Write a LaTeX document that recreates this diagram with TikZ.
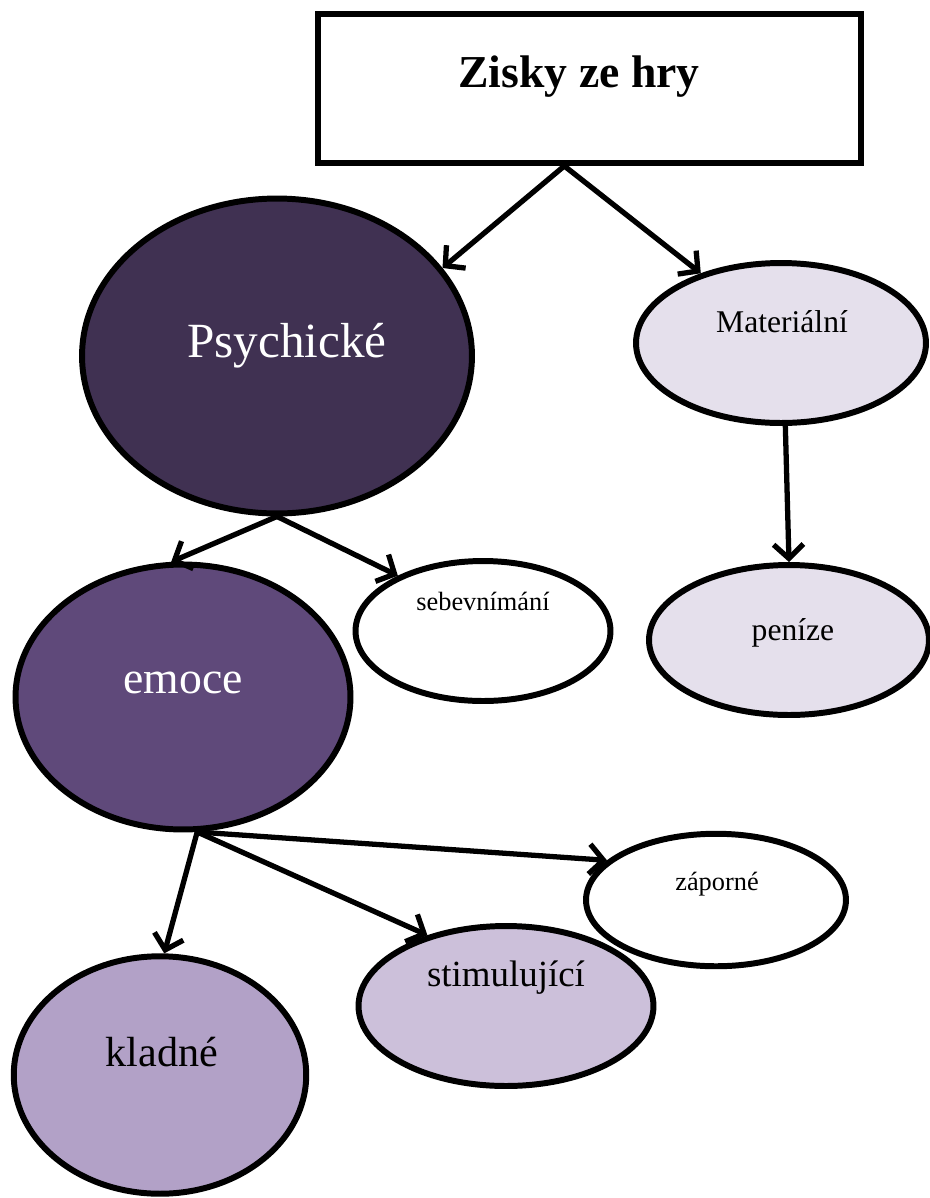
\documentclass[tikz,border=0pt]{standalone}
\usepackage{fontspec}
\setmainfont{Liberation Serif}
\usetikzlibrary{shapes.geometric,arrows.meta}
\definecolor{psydark}{HTML}{403152}
\definecolor{emoviolet}{HTML}{5F497A}
\definecolor{kladlila}{HTML}{B2A1C7}
\definecolor{stimlila}{HTML}{CCC0DA}
\definecolor{matpale}{HTML}{E5E0EC}
\newcommand{\fs}[1]{\fontsize{#1}{#1}\selectfont}

\begin{document}
\begin{tikzpicture}[x=0.02cm,y=-0.02cm,
  blob/.style={ellipse,draw,line width=3.4pt,inner sep=0pt},
  word/.style={anchor=base,inner sep=0pt},
  arr/.style={line width=3pt,-{Straight Barb[length=8pt,width=17pt,line width=3pt]}}]
  \useasboundingbox (0,0) rectangle (930,1198);
  % top box
  \node (zisky) at (589.5,88.5) [draw,line width=3.4pt,minimum width=10.86cm,minimum height=2.98cm] {};
  \node (ziskytext) at (579,87) [word,font=\fs{26}\bfseries] {Zisky ze hry};
  % first level
  \node (psy) at (277,356) [blob,fill=psydark,minimum width=7.8cm,minimum height=6.3cm] {};
  \node (psytext) at (287,357) [word,text=white,font=\fs{28}] {Psychické};
  \node (mat) at (781,343) [blob,fill=matpale,minimum width=5.8cm,minimum height=3.2cm] {};
  \node (mattext) at (782,332) [word,font=\fs{18}] {Materiální};
  \node (pen) at (789,640) [blob,fill=matpale,minimum width=5.6cm,minimum height=3cm] {};
  \node (pentext) at (793,640) [word,font=\fs{18}] {peníze};
  % second level
  \node (emo) at (183,697) [blob,fill=emoviolet,minimum width=6.7cm,minimum height=5.3cm] {};
  \node (emotext) at (183,693) [word,text=white,font=\fs{26}] {emoce};
  \node (sebe) at (483,631) [blob,fill=white,minimum width=5.1cm,minimum height=2.8cm] {};
  \node (sebetext) at (483,610) [word,font=\fs{15}] {sebevnímání};
  % third level
  \node (klad) at (160,1075) [blob,fill=kladlila,minimum width=5.85cm,minimum height=4.75cm] {};
  \node (kladtext) at (162,1066) [word,font=\fs{24}] {kladné};
  \node (stim) at (506,1006) [blob,fill=stimlila,minimum width=5.9cm,minimum height=3.2cm] {};
  \node (stimtext) at (506,986) [word,font=\fs{21}] {stimulující};
  \node (zap) at (716,900) [blob,fill=white,minimum width=5.2cm,minimum height=2.65cm] {};
  \node (zaptext) at (717,890) [word,font=\fs{15}] {záporné};
  % arrows
  \draw[arr] (zisky.252) to (psy.28);
  \draw[arr] (zisky.252) to (mat.139);
  \draw[arr] (psy.south) to (emo.95);
  \draw[arr] (psy.south) to (sebe.147);
  \draw[arr] (mat.-87) to (pen.north);
  \draw[arr] (emo.-84) to (klad.88);
  \draw[arr] (emo.-84) to (stim.138);
  \draw[arr] (emo.-84) to (zap.160);
\end{tikzpicture}
\end{document}
